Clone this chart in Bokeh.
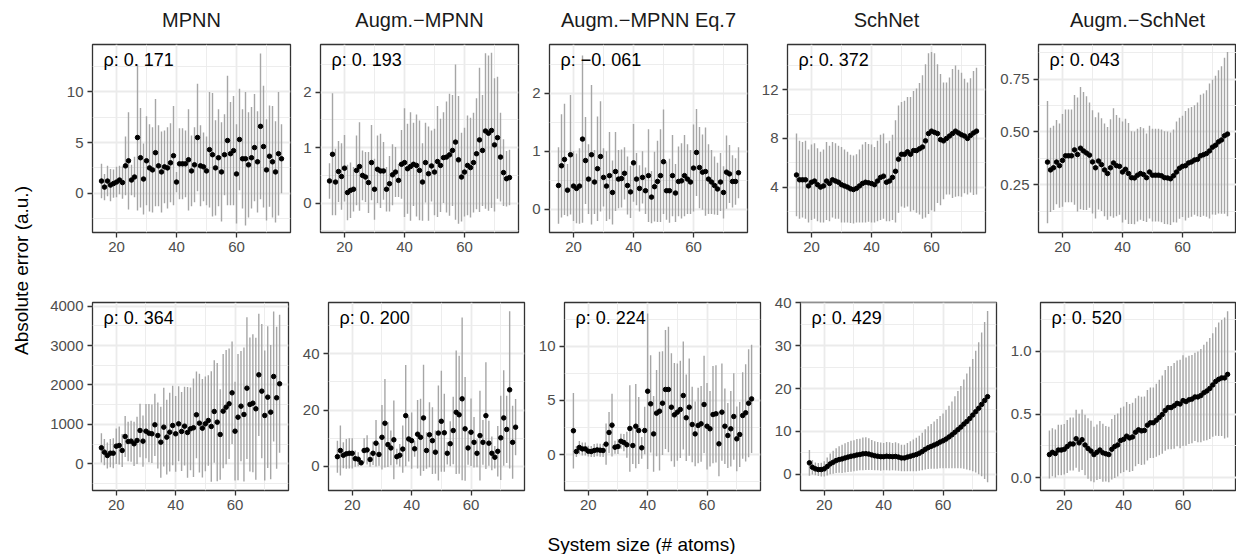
import math
from bokeh.plotting import figure
from bokeh.layouts import row, column
from bokeh.models import ColumnDataSource, FixedTicker, Label, Range1d, PrintfTickFormatter
from bokeh.embed import file_html
from bokeh.resources import INLINE

# ---------------- data ----------------
SIZES = [15, 16, 17, 18, 19, 20, 21, 22, 23, 24,
         25, 26, 27, 28, 29, 30, 31, 32, 33, 34,
         35, 36, 37, 38, 39, 40, 41, 42, 43, 44,
         45, 46, 47, 48, 49, 50, 51, 52, 53, 54,
         55, 56, 57, 58, 59, 60, 61, 62, 63, 64,
         65, 66, 67, 68, 69, 70, 71, 72, 73, 74,
         75]

MODELS = ["MPNN", "Augm.\u2212MPNN", "Augm.\u2212MPNN Eq.7", "SchNet", "Augm.\u2212SchNet"]
RHO_TOP = ["\u03c1: 0. 171", "\u03c1: 0. 193", "\u03c1: \u22120. 061", "\u03c1: 0. 372", "\u03c1: 0. 043"]
RHO_BOTTOM = ["\u03c1: 0. 364", "\u03c1: 0. 200", "\u03c1: 0. 224", "\u03c1: 0. 429", "\u03c1: 0. 520"]

X_TICKS = [20, 40, 60]
X_MINOR = [30, 50, 70]

# ---- top row ----
MPNN_MEAN = [1.2, 0.6, 1.2, 0.8, 0.95, 1.1, 1.3, 1.05, 2.7, 3.2,
             1.3, 1.6, 5.5, 3.5, 1.4, 3.2, 2.5, 2.3, 4.0, 2.7,
             2.1, 2.6, 2.5, 3.0, 3.7, 1.1, 2.9, 2.9, 2.9, 3.3,
             2.2, 2.8, 5.5, 2.7, 2.6, 2.2, 4.3, 3.8, 2.5, 3.5,
             2.1, 3.8, 5.2, 3.9, 4.2, 1.9, 5.3, 3.4, 3.4, 2.8,
             3.5, 4.5, 3.1, 6.6, 4.6, 2.3, 3.65, 3.1, 2.1, 3.9,
             3.4]
MPNN_SD = [1.7, 1.3, 1.5, 1.6, 1.4, 1.5, 1.4, 1.6, 2.9, 4.8,
           1.5, 2.0, 7.2, 4.9, 3.5, 4.4, 4.3, 4.2, 5.3, 4.0,
           4.0, 3.6, 4.0, 3.9, 4.9, 1.0, 3.5, 3.5, 3.3, 5.0,
           3.5, 3.7, 5.3, 4.0, 3.4, 3.4, 5.7, 6.1, 4.7, 4.8,
           4.9, 4.0, 6.4, 5.1, 5.4, 4.9, 5.0, 4.9, 6.6, 5.2,
           5.0, 5.3, 5.0, 7.2, 6.0, 5.0, 5.0, 5.5, 5.0, 6.1,
           3.4]

AUGM_MPNN_MEAN = [0.40, 0.88, 0.38, 0.57, 0.48, 0.63, 0.19, 0.23, 0.25, 0.59,
                  0.66, 0.50, 0.47, 0.37, 0.73, 0.25, 0.61, 0.58, 0.58, 0.25,
                  0.35, 0.51, 0.56, 0.41, 0.70, 0.73, 0.62, 0.66, 0.70, 0.68,
                  0.59, 0.38, 0.73, 0.53, 0.67, 0.56, 0.75, 0.68, 0.82, 0.83,
                  0.87, 0.95, 1.10, 0.78, 0.47, 0.56, 0.68, 0.64, 0.73, 0.89,
                  1.14, 0.95, 1.30, 1.26, 1.31, 1.05, 1.18, 0.83, 0.55, 0.44,
                  0.46]
AUGM_MPNN_SD = [0.32, 1.10, 0.60, 0.55, 0.60, 0.60, 0.50, 0.50, 0.40, 0.63,
                0.80, 0.45, 0.45, 0.55, 0.68, 0.55, 0.61, 0.67, 0.52, 0.40,
                0.50, 0.55, 0.45, 0.30, 0.62, 0.98, 0.81, 0.98, 0.75, 0.92,
                0.90, 0.70, 0.72, 0.85, 0.64, 0.78, 1.00, 0.84, 0.82, 1.00,
                1.10, 1.00, 1.40, 1.15, 0.80, 0.80, 0.90, 0.90, 0.90, 1.00,
                1.30, 1.00, 1.40, 1.40, 1.40, 1.20, 1.10, 0.80, 0.60, 0.50,
                0.50]

EQ7_MEAN = [0.41, 0.75, 0.86, 0.33, 0.94, 0.40, 0.36, 0.40, 1.21, 0.84,
            0.52, 0.94, 0.47, 0.70, 0.91, 0.55, 0.40, 0.58, 0.29, 0.65,
            0.52, 0.53, 0.62, 0.41, 0.30, 0.80, 0.52, 0.36, 0.55, 0.32,
            0.58, 0.21, 0.39, 0.48, 0.58, 0.82, 0.32, 0.32, 0.58, 0.28,
            0.48, 0.49, 0.58, 0.52, 0.47, 0.71, 0.98, 0.72, 0.64, 0.65,
            0.52, 0.47, 0.41, 0.35, 0.47, 0.29, 0.64, 0.61, 0.48, 0.48,
            0.63]
EQ7_SD = [0.66, 0.89, 0.96, 0.45, 1.03, 0.60, 0.60, 0.65, 1.44, 0.75,
          0.60, 1.20, 0.55, 0.90, 0.95, 0.50, 0.60, 0.75, 0.55, 0.68,
          0.50, 0.50, 0.45, 0.50, 0.45, 0.67, 0.45, 0.40, 0.45, 0.40,
          0.80, 0.45, 0.60, 0.70, 0.80, 0.90, 0.50, 0.55, 0.70, 0.50,
          0.60, 0.65, 0.70, 0.60, 0.55, 0.75, 0.75, 0.70, 0.65, 0.76,
          0.60, 0.55, 0.50, 0.45, 0.50, 0.45, 0.63, 0.50, 0.45, 0.40,
          0.44]

SCHNET_MEAN = [5.0, 4.6, 4.6, 4.6, 4.1, 4.4, 4.5, 4.2, 4.0, 4.1,
               4.5, 4.3, 4.6, 4.5, 4.4, 4.2, 4.1, 4.0, 3.86, 3.8,
               3.9, 4.1, 4.3, 4.4, 4.35, 4.3, 4.2, 4.5, 4.8, 4.9,
               4.4, 4.5, 4.8, 5.3, 6.3, 6.7, 6.7, 6.9, 6.7, 7.0,
               7.0, 7.15, 7.3, 7.8, 8.4, 8.6, 8.5, 8.4, 7.9, 7.8,
               8.0, 8.2, 8.4, 8.6, 8.45, 8.3, 8.2, 8.0, 8.25, 8.45,
               8.6]
SCHNET_SD = [3.4, 3.2, 3.1, 3.2, 3.0, 3.1, 3.1, 3.0, 2.9, 3.0,
             3.2, 3.1, 3.1, 3.1, 3.0, 3.1, 3.0, 2.9, 2.8, 2.8,
             2.8, 3.0, 3.2, 3.3, 3.2, 3.2, 3.1, 3.3, 3.5, 3.5,
             3.2, 3.3, 3.5, 4.2, 4.4, 4.3, 4.4, 4.5, 4.7, 4.9,
             5.1, 5.4, 5.9, 6.3, 6.6, 6.5, 6.5, 5.7, 5.4, 4.8,
             4.6, 4.8, 5.3, 5.4, 5.2, 5.1, 4.7, 4.6, 4.7, 5.1,
             5.2]

AUGM_SCHNET_MEAN = [0.357, 0.32, 0.33, 0.357, 0.34, 0.365, 0.387, 0.387, 0.387, 0.415,
                    0.393, 0.423, 0.41, 0.40, 0.39, 0.358, 0.33, 0.362, 0.345, 0.32,
                    0.303, 0.33, 0.353, 0.34, 0.337, 0.31, 0.323, 0.303, 0.283, 0.282,
                    0.295, 0.303, 0.298, 0.283, 0.31, 0.295, 0.295, 0.295, 0.292, 0.283,
                    0.282, 0.278, 0.292, 0.31, 0.328, 0.337, 0.34, 0.353, 0.358, 0.367,
                    0.37, 0.387, 0.392, 0.398, 0.41, 0.428, 0.437, 0.453, 0.462, 0.482,
                    0.49]
AUGM_SCHNET_SD = [0.29, 0.20, 0.20, 0.20, 0.20, 0.22, 0.22, 0.22, 0.22, 0.26,
                  0.27, 0.29, 0.28, 0.27, 0.25, 0.245, 0.24, 0.23, 0.22, 0.22,
                  0.22, 0.23, 0.26, 0.24, 0.23, 0.24, 0.24, 0.24, 0.22, 0.22,
                  0.22, 0.22, 0.22, 0.21, 0.22, 0.22, 0.22, 0.22, 0.22, 0.22,
                  0.22, 0.22, 0.22, 0.24, 0.24, 0.24, 0.26, 0.26, 0.26, 0.26,
                  0.27, 0.29, 0.29, 0.30, 0.32, 0.32, 0.33, 0.34, 0.35, 0.37,
                  0.39]

# ---- bottom row ----
MPNN2_MEAN = [406, 296, 211, 270, 270, 448, 465, 338, 693, 566,
              575, 507, 592, 845, 575, 828, 778, 761, 989, 718,
              549, 930, 676, 803, 972, 761, 1014, 820, 955, 795,
              888, 913, 1243, 1031, 904, 1014, 1099, 947, 1327, 1057,
              744, 1336, 1437, 1522, 1800, 828, 1183, 1462, 1251, 1919,
              1505, 1538, 1395, 2257, 1843, 1226, 1691, 1310, 2215, 1674,
              2029]
MPNN2_SD = [370, 330, 330, 360, 380, 450, 480, 420, 520, 500,
            520, 560, 600, 680, 650, 690, 740, 740, 790, 840,
            900, 1000, 950, 1000, 1010, 960, 950, 1000, 1000, 1150,
            1050, 1250, 1100, 1250, 1250, 1200, 1150, 1400, 1300, 1500,
            1150, 1450, 1450, 1400, 1300, 1250, 1600, 1400, 1700, 1800,
            1700, 1750, 1800, 1550, 1700, 1650, 1800, 1700, 1650, 1800,
            1750]

AUGM_MPNN2_MEAN = [3.4, 5.6, 3.9, 4.4, 4.6, 4.6, 2.7, 2.5, 1.2, 5.6,
                   5.8, 2.4, 4.6, 8.2, 4.2, 10.3, 15.3, 7.7, 6.5, 9.4,
                   3.4, 3.9, 6.1, 18.0, 9.7, 9.1, 6.2, 11.4, 10.3, 17.2,
                   5.6, 11.2, 9.1, 5.0, 11.8, 16.0, 11.9, 4.6, 8.0, 12.7,
                   19.2, 18.3, 24.0, 13.3, 6.5, 12.1, 8.5, 4.6, 10.9, 8.5,
                   18.0, 8.2, 4.6, 3.2, 5.3, 10.1, 17.2, 13.1, 27.2, 8.5,
                   13.9]
AUGM_MPNN2_SD = [5.7, 8.9, 4.6, 5.3, 5.4, 5.4, 2.9, 2.5, 0.8, 4.4,
                 5.2, 2.6, 4.2, 8.3, 4.0, 11.5, 15.8, 8.0, 6.2, 14.0,
                 2.8, 4.0, 8.4, 18.0, 8.0, 10.0, 2.8, 12.2, 13.7, 18.9,
                 6.5, 11.6, 11.9, 7.7, 16.9, 18.0, 13.9, 4.0, 8.0, 12.0,
                 22.0, 21.0, 29.0, 18.5, 6.0, 12.0, 9.0, 5.0, 16.0, 8.0,
                 19.0, 8.0, 6.0, 4.0, 9.0, 15.0, 17.0, 12.0, 28.0, 13.0,
                 10.0]

EQ7_2_MEAN = [2.2, 0.28, 0.65, 0.52, 0.52, 0.31, 0.28, 0.37, 0.43, 0.40,
              0.37, 0.96, 2.04, 2.72, 0.68, 0.74, 1.23, 1.11, 0.90, 2.41,
              0.83, 2.62, 2.22, 0.62, 2.22, 5.86, 4.69, 1.91, 3.83, 4.01,
              4.75, 6.02, 6.02, 4.38, 3.67, 3.92, 4.17, 5.46, 3.40, 4.38,
              2.78, 1.91, 2.69, 2.84, 4.63, 2.62, 2.38, 3.70, 3.77, 0.99,
              3.92, 2.62, 1.76, 2.38, 3.52, 1.45, 1.85, 3.61, 3.86, 4.75,
              5.15]
EQ7_2_SD = [3.5, 0.5, 0.6, 0.6, 0.6, 0.5, 0.5, 0.6, 0.6, 0.6,
            0.6, 1.9, 1.9, 2.9, 0.6, 0.7, 0.7, 0.8, 1.2, 4.0,
            1.7, 3.9, 3.1, 1.0, 2.2, 7.2, 4.5, 3.5, 4.0, 5.5,
            4.8, 5.5, 5.8, 5.0, 4.8, 4.5, 4.5, 5.0, 4.0, 4.5,
            3.5, 3.0, 3.5, 3.5, 4.5, 4.0, 3.5, 4.5, 4.5, 3.0,
            4.5, 3.5, 3.0, 3.5, 4.0, 3.0, 3.0, 4.0, 4.5, 5.0,
            5.0]

SCHNET2_MEAN = [2.65, 1.63, 1.25, 1.09, 1.09, 1.25, 1.79, 2.41, 2.8, 3.19,
                3.42, 3.58, 3.8, 4.0, 4.2, 4.3, 4.5, 4.6, 4.75, 4.8,
                4.7, 4.5, 4.3, 4.2, 4.1, 4.1, 4.2, 4.15, 4.1, 4.15,
                4.0, 3.8, 3.8, 4.0, 4.2, 4.4, 4.6, 4.9, 5.3, 5.8,
                6.2, 6.5, 6.8, 7.1, 7.5, 7.8, 8.2, 8.7, 9.2, 9.8,
                10.4, 11.0, 11.7, 12.3, 13.0, 13.8, 14.6, 15.4, 16.3, 17.2,
                18.1]
SCHNET2_SD = [3.0, 1.7, 1.5, 1.5, 1.6, 1.8, 2.1, 2.4, 2.7, 2.9,
              3.1, 3.3, 3.4, 3.5, 3.6, 3.6, 3.7, 3.7, 3.8, 3.8,
              3.7, 3.5, 3.4, 3.3, 3.3, 3.2, 3.3, 3.3, 3.2, 3.3,
              3.2, 3.1, 3.1, 3.3, 3.5, 3.7, 3.9, 4.1, 4.4, 4.7,
              5.0, 5.2, 5.5, 5.8, 6.1, 6.4, 6.8, 7.3, 7.8, 8.4,
              9.0, 9.6, 10.4, 11.2, 12.1, 13.1, 14.2, 15.4, 16.8, 18.3,
              20.0]

AUGM_SCHNET2_MEAN = [0.182, 0.20, 0.19, 0.218, 0.218, 0.224, 0.246, 0.266, 0.266, 0.308,
                     0.275, 0.30, 0.258, 0.23, 0.21, 0.182, 0.20, 0.218, 0.196, 0.188,
                     0.182, 0.224, 0.246, 0.258, 0.294, 0.303, 0.328, 0.314, 0.322, 0.359,
                     0.378, 0.37, 0.373, 0.415, 0.434, 0.434, 0.454, 0.476, 0.499, 0.532,
                     0.555, 0.555, 0.569, 0.588, 0.583, 0.61, 0.602, 0.616, 0.622, 0.639,
                     0.639, 0.65, 0.672, 0.686, 0.706, 0.734, 0.762, 0.779, 0.79, 0.79,
                     0.818]
AUGM_SCHNET2_SD = [0.19, 0.19, 0.19, 0.20, 0.20, 0.20, 0.21, 0.21, 0.21, 0.23,
                   0.23, 0.24, 0.24, 0.24, 0.24, 0.22, 0.22, 0.23, 0.23, 0.22,
                   0.22, 0.24, 0.25, 0.25, 0.26, 0.26, 0.27, 0.27, 0.27, 0.27,
                   0.27, 0.27, 0.27, 0.28, 0.28, 0.28, 0.29, 0.30, 0.31, 0.32,
                   0.33, 0.33, 0.34, 0.34, 0.35, 0.36, 0.35, 0.35, 0.35, 0.35,
                   0.36, 0.37, 0.38, 0.39, 0.40, 0.41, 0.43, 0.45, 0.46, 0.48,
                   0.50]

# y axis ticks (values, minor values, label format) per panel
TOP_YTICKS = [[0, 5, 10], [0, 1, 2], [0, 1, 2], [4, 8, 12], [0.25, 0.50, 0.75]]
TOP_YMINOR = [[-2.5, 2.5, 7.5, 12.5], [-0.5, 0.5, 1.5, 2.5], [-0.5, 0.5, 1.5, 2.5],
              [2, 6, 10, 14], [0.125, 0.375, 0.625, 0.875]]
TOP_YFMT = ["%d", "%d", "%d", "%d", "%.2f"]
BOT_YTICKS = [[0, 1000, 2000, 3000, 4000], [0, 20, 40], [0, 5, 10], [0, 10, 20, 30, 40], [0.0, 0.5, 1.0]]
BOT_YMINOR = [[-500, 500, 1500, 2500, 3500], [-10, 10, 30, 50], [-2.5, 2.5, 7.5, 12.5],
              [-5, 5, 15, 25, 35], [0.25, 0.75, 1.25]]
BOT_YFMT = ["%d", "%d", "%d", "%d", "%.1f"]

# ---------------- layout / style ----------------
TOP_YRANGE = [(-3.88, 14.68), (-0.53, 2.86), (-0.40, 2.84), (0.27, 15.72), (0.023, 0.915)]
BOT_YRANGE = [(-677, 4091), (-8.65, 58.3), (-3.33, 14.07), (-3.8, 40.08), (-0.103, 1.388)]

FONT = "Liberation Sans"
TOTAL_W, TOTAL_H = 1236, 554
YLAB_W = 40
PANEL_W = [198, 196]
ROW_LEFTS = [[92, 320, 549, 787, 1038], [92, 328, 564, 800, 1040]]
STRIP_H = 42                 # band holding the model names
ROW_H = [228, 254]
ROW_TOP = [2, 32]
FRAME_H = 188
XLAB_H = TOTAL_H - STRIP_H - ROW_H[0] - ROW_H[1]


def make_panel(mean, sd, yrange, yticks, yminor, fmt, rho,
               width, height, bl, br, bt, bb, frame_w):
    lo = [m - s for m, s in zip(mean, sd)]
    hi = [m + s for m, s in zip(mean, sd)]
    src = ColumnDataSource(dict(x=SIZES, mean=mean, lo=lo, hi=hi))
    xmin, xmax = min(SIZES), max(SIZES)
    pad = 0.05 * (xmax - xmin)
    x0, x1 = xmin - pad, xmax + pad
    y0, y1 = yrange
    p = figure(width=width, height=height,
               x_range=Range1d(x0, x1), y_range=Range1d(y0, y1),
               output_backend="svg", toolbar_location=None,
               min_border_left=bl, min_border_right=br,
               min_border_top=bt, min_border_bottom=bb)
    p.background_fill_color = "white"
    p.border_fill_color = "white"
    p.outline_line_color = "#333333"
    p.outline_line_width = 1.3

    xt = FixedTicker(ticks=X_TICKS, minor_ticks=X_MINOR)
    yt = FixedTicker(ticks=yticks, minor_ticks=yminor)
    p.xaxis.ticker = xt
    p.yaxis.ticker = yt
    p.xgrid.ticker = xt
    p.ygrid.ticker = yt
    p.yaxis.formatter = PrintfTickFormatter(format=fmt)
    for ax in (p.xaxis, p.yaxis):
        ax.axis_line_color = None
        ax.major_tick_line_color = "#333333"
        ax.major_tick_line_width = 1.3
        ax.major_tick_out = 5
        ax.major_tick_in = 0
        ax.minor_tick_line_color = None
        ax.major_label_text_font = FONT
        ax.major_label_text_font_size = "15px"
        ax.major_label_text_color = "#4D4D4D"
        ax.major_label_standoff = 4
    for g in (p.xgrid, p.ygrid):
        g.grid_line_color = "#EBEBEB"
        g.grid_line_width = 1.8
        g.minor_grid_line_color = "#EBEBEB"
        g.minor_grid_line_width = 0.9

    p.segment(x0="x", y0="lo", x1="x", y1="hi", source=src,
              line_color="#A6A6A6", line_width=1.4)
    p.scatter(x="x", y="mean", source=src, size=4.5,
              fill_color="black", line_color="black")

    xu = (x1 - x0) / frame_w
    yu = (y1 - y0) / FRAME_H
    p.add_layout(Label(x=x0 + 11 * xu, y=y1 - 15 * yu, text=rho,
                       text_align="left", text_baseline="middle",
                       text_font=FONT, text_font_size="18px", text_color="black"))
    return p


def blank(w, h):
    p = figure(width=w, height=h, x_range=Range1d(0, w), y_range=Range1d(0, h),
               x_axis_type=None, y_axis_type=None, output_backend="svg",
               toolbar_location=None, min_border_left=0, min_border_right=0,
               min_border_top=0, min_border_bottom=0)
    p.outline_line_color = None
    p.background_fill_color = "white"
    p.border_fill_color = "white"
    p.xgrid.visible = False
    p.ygrid.visible = False
    return p


ROW_DATA = [
    [(MPNN_MEAN, MPNN_SD), (AUGM_MPNN_MEAN, AUGM_MPNN_SD), (EQ7_MEAN, EQ7_SD),
     (SCHNET_MEAN, SCHNET_SD), (AUGM_SCHNET_MEAN, AUGM_SCHNET_SD)],
    [(MPNN2_MEAN, MPNN2_SD), (AUGM_MPNN2_MEAN, AUGM_MPNN2_SD), (EQ7_2_MEAN, EQ7_2_SD),
     (SCHNET2_MEAN, SCHNET2_SD), (AUGM_SCHNET2_MEAN, AUGM_SCHNET2_SD)],
]
ROW_RANGES = [TOP_YRANGE, BOT_YRANGE]
ROW_TICKS = [TOP_YTICKS, BOT_YTICKS]
ROW_MINOR = [TOP_YMINOR, BOT_YMINOR]
ROW_FMT = [TOP_YFMT, BOT_YFMT]
ROW_RHO = [RHO_TOP, RHO_BOTTOM]

# model-name band above the top row
strip = blank(TOTAL_W - YLAB_W, STRIP_H)
for i, name in enumerate(MODELS):
    cx = ROW_LEFTS[0][i] + PANEL_W[0] / 2 - YLAB_W
    strip.add_layout(Label(x=cx, y=STRIP_H - 19, text=name,
                           text_align="center", text_baseline="middle",
                           text_font=FONT, text_font_size="20px", text_color="#1A1A1A"))

rows = []
for r in range(2):
    figs = []
    start = YLAB_W
    for i in range(5):
        left = ROW_LEFTS[r][i]
        right = left + PANEL_W[r]
        end = TOTAL_W if i == 4 else right + 2
        mean, sd = ROW_DATA[r][i]
        fig = make_panel(mean, sd, ROW_RANGES[r][i], ROW_TICKS[r][i], ROW_MINOR[r][i],
                         ROW_FMT[r][i], ROW_RHO[r][i],
                         width=end - start, height=ROW_H[r],
                         bl=left - start, br=end - right,
                         bt=ROW_TOP[r], bb=ROW_H[r] - ROW_TOP[r] - FRAME_H,
                         frame_w=PANEL_W[r])
        figs.append(fig)
        start = end
    rows.append(row(*figs, spacing=0))

ylab = blank(YLAB_W, TOTAL_H)
ylab.add_layout(Label(x=21, y=TOTAL_H - 270, text="Absolute error (a.u.)", angle=math.pi / 2,
                      text_align="center", text_baseline="middle",
                      text_font=FONT, text_font_size="19px", text_color="black"))

xlab = blank(TOTAL_W - YLAB_W, XLAB_H)
xlab.add_layout(Label(x=641 - YLAB_W, y=10, text="System size (# atoms)",
                      text_align="center", text_baseline="middle",
                      text_font=FONT, text_font_size="19px", text_color="black"))

layout = row(ylab, column(strip, rows[0], rows[1], xlab, spacing=0), spacing=0)

with open("out.html", "w") as f:
    f.write(file_html(layout, INLINE))
